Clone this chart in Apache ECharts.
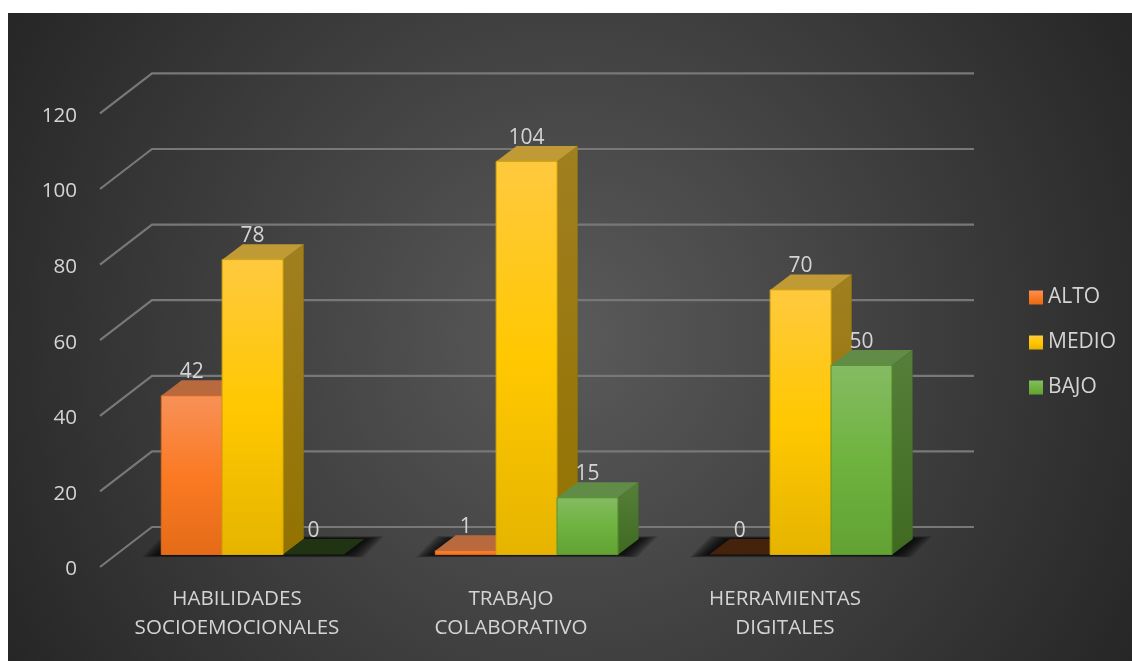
<!DOCTYPE html>
<html><head><meta charset="utf-8">
<style>html,body{margin:0;padding:0;background:#fff}#c{width:1132px;height:661px}</style>
<script src="https://cdn.jsdelivr.net/npm/echarts@6/dist/echarts.min.js"></script>
</head><body><div id="c"></div>
<script>
const categories = ['HABILIDADES\nSOCIOEMOCIONALES', 'TRABAJO\nCOLABORATIVO', 'HERRAMIENTAS\nDIGITALES'];
const alto = [42, 1, 0];
const medio = [78, 104, 70];
const bajo = [0, 15, 50];
const ticks = [0, 20, 40, 60, 80, 100, 120];

const FONT = '"Open Sans"';
const TXT = '#d4d4d4';
const D = {wx:52, wy:40, fx:15.6, fy:12.5, bx:20.5, by:15.5};
const looks = {
  ALTO:  {front:['#f79158','#fb7a24','#e56b18'], side:['#b05a28','#8f4a1a'], top:'#b86a3e', zero:'#45220b', edge:'#d9691f'},
  MEDIO: {front:['#ffc93f','#ffc800','#e6b400'], side:['#a07f20','#927300'], top:'#c09a35', zero:'#4a3b00', edge:'#d7a90c'},
  BAJO:  {front:['#85bb63','#6fb33f','#62a233'], side:['#56803a','#3f6a20'], top:'#618c48', zero:'#203413', edge:'#5b9430'}
};
function grad(c){
  const stops = c.length===3 ? [0,.5,1] : [0,1];
  return new echarts.graphic.LinearGradient(0,0,0,1,c.map((color,i)=>({offset:stops[i],color})));
}
function barSeries(name, values, idx){
  const L = looks[name];
  return {
    name, type:'custom', z:5+idx, clip:false,
    itemStyle:{color:grad(L.front)},
    data: values.map((v,i)=>[i,v]),
    encode:{x:0,y:1},
    renderItem(params, api){
      const band = api.size([1,0])[0], w = band/4.5;
      const v = api.value(1);
      const c = api.coord([api.value(0), v]), o = api.coord([api.value(0), 0]);
      const x = c[0] + D.fx + (idx-1.5)*w, yT = c[1]-D.fy, yB = o[1]-D.fy;
      const kids = [];
      if (v > 0) {
        kids.push({type:'polygon', shape:{points:[[x+w,yT],[x+w+D.bx,yT-D.by],[x+w+D.bx,yB-D.by],[x+w,yB]]}, style:{fill:grad(L.side), stroke:L.side[1], lineWidth:.5}});
      }
      kids.push({type:'polygon', shape:{points:[[x,yT],[x+D.bx,yT-D.by],[x+w+D.bx,yT-D.by],[x+w,yT]]}, style:{fill:v>0?L.top:L.zero}});
      if (v > 0) {
        kids.push({type:'rect', shape:{x,y:yT,width:w,height:yB-yT}, style:{fill:grad(L.front), stroke:L.edge, lineWidth:1}});
      }
      kids.push({type:'text', style:{x:x+w/2, y:yT-D.by-8, text:String(v), fill:TXT, font:'400 21px '+FONT, align:'center', verticalAlign:'middle'}});
      return {type:'group', children:kids};
    }
  };
}
const shadow = {
  type:'custom', z:3, clip:false, silent:true,
  data: categories.map((_,i)=>[i,0]),
  encode:{x:0,y:1},
  renderItem(params, api){
    const band = api.size([1,0])[0], w = band/4.5*3;
    const o = api.coord([api.value(0),0]);
    const x = o[0]+D.fx-w/2, y = o[1]-D.fy;
    const kids = [];
    for (let k = 8; k >= 0; k--) {
      const ex = k*2.4, ey = k*0.35;
      kids.push({type:'polygon', shape:{points:[[x-ex,y+ey],[x+D.bx-ex,y-D.by-ey],[x+w+D.bx+ex,y-D.by-ey],[x+w+ex,y+ey]]},
        style:{fill:'#000', opacity:0.16}});
    }
    return {type:'group', children:kids};
  }
};
const walls = {
  type:'custom', z:2, clip:false, silent:true,
  data: ticks.map(t=>[0,t]),
  encode:{y:1},
  renderItem(params, api){
    const g = params.coordSys, y = api.coord([0, api.value(1)])[1];
    return {type:'polyline', shape:{points:[[g.x,y],[g.x+D.wx,y-D.wy],[g.x+g.width+D.wx,y-D.wy]]},
      style:{stroke:'#787878', lineWidth:2.2, fill:null}};
  }
};
const chart = echarts.init(document.getElementById('c'), null, {renderer:'canvas'});
chart.setOption({
  animation:false,
  backgroundColor:'#fff',
  graphic:[{type:'rect', z:-10, silent:true, shape:{x:8,y:13,width:1124,height:648},
    style:{fill:new echarts.graphic.RadialGradient(0.5,0.5,1.0,[{offset:0,color:'#5a5a5a'},{offset:1,color:'#262626'}])}}],
  grid:{left:100, top:113.4, width:822, height:453.6, containLabel:false},
  xAxis:{type:'category', data:categories, axisLine:{show:false}, axisTick:{show:false}, splitLine:{show:false},
    axisLabel:{color:TXT, fontFamily:FONT, fontWeight:400, fontSize:20.6, lineHeight:29, margin:18, interval:0}},
  yAxis:{type:'value', min:0, max:120, interval:20, axisLine:{show:false}, axisTick:{show:false}, splitLine:{show:false},
    axisLabel:{color:TXT, fontFamily:FONT, fontWeight:400, fontSize:20.6, margin:23, verticalAlign:'top', lineHeight:5, hideOverlap:false}},
  legend:{orient:'vertical', left:1029, top:287, padding:0, itemWidth:14, itemHeight:14, itemGap:24, icon:'rect',
    data:['ALTO','MEDIO','BAJO'], textStyle:{color:TXT, fontFamily:FONT, fontWeight:400, fontSize:21, lineHeight:21, padding:[0,0,0,0]}},
  series:[walls, shadow, barSeries('ALTO',alto,0), barSeries('MEDIO',medio,1), barSeries('BAJO',bajo,2)]
});
</script></body></html>
